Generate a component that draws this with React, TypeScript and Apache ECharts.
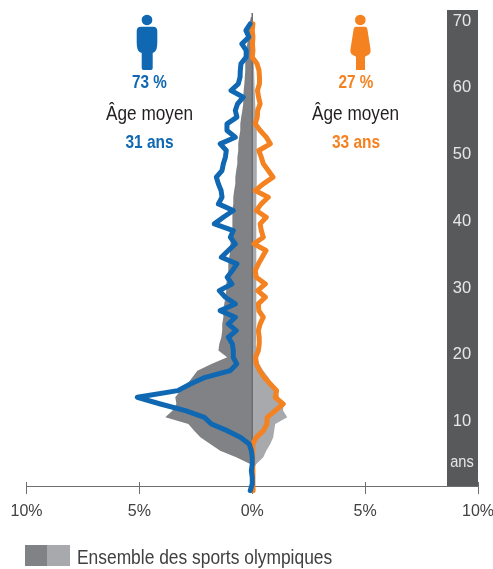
import React, { useEffect, useRef } from "react";
import * as echarts from "echarts";

const FONT = '"Liberation Sans", sans-serif';
const BLUE = "#1068b2";
const ORANGE = "#f58220";

const ages = Array.from({ length: 72 }, (_, i) => String(i));
const ageTicks = ["10", "20", "30", "40", "50", "60", "70"];
const xTicks = [-10, -5, 0, 5, 10];

// share per age (%), from age 0 upward
const menShare = [
  0.09, 0, 0, 0.04, 0, 0, 0.04, 0.13, 0.53, 1.11,
  1.81, 2.12, 2.96, 4.07, 5.09, 3.3, 2.74, 2.08, 0.97, 0.69,
  0.84, 0.84, 0.88, 1.06, 0.71, 1.06, 0.75, 1.42, 0.75, 1.19,
  1.46, 0.9, 1.11, 0.88, 0.68, 1.37, 1.06, 0.75, 0.97, 0.84,
  1.68, 1.28, 0.84, 1.5, 1.34, 1.38, 1.5, 1.59, 1.34, 1.28,
  1.19, 1.15, 1.42, 0.75, 1.12, 1.12, 0.68, 0.75, 0.65, 0.4,
  0.94, 0.62, 0.54, 0.53, 0.5, 0.27, 0.27, 0.46, 0.15, 0.28,
  0.09, null,
];
const womenShare = [
  0.04, 0.03, 0.03, 0.03, 0.02, 0.02, 0.02, 0.02, 0.18, 0.49,
  0.65, 0.66, 1.02, 1.37, 1.02, 1.08, 0.8, 0.53, 0.33, 0.18,
  0.15, 0.27, 0.31, 0.31, 0.27, 0.35, 0.49, 0.29, 0.27, 0.58,
  0.24, 0.58, 0.18, 0.13, 0.27, 0.44, 0.61, 0.07, 0.49, 0.4,
  0.35, 0.62, 0.18, 0.4, 0.71, 0.13, 0.49, 0.92, 0.71, 0.49,
  0.4, 0.29, 0.8, 0.62, 0.35, 0.13, 0.22, 0.24, 0.35, 0.28,
  0.23, 0.32, 0.32, 0.3, 0.21, 0, 0.03, 0.01, 0.03, 0,
  0.03, null,
];
const allMen = [
  0, 0, 0, 0, 0.09, 0.71, 1.42, 1.86, 2.3, 2.57,
  2.83, 3.85, 3.54, 3.36, 3.41, 3.19, 2.88, 2.65, 2.43, 1.81,
  1.11, 1.5, 1.46, 1.37, 1.33, 1.33, 1.28, 1.28, 1.24, 1.19,
  1.15, 1.15, 1.11, 1.06, 1.06, 1.02, 0.97, 0.97, 0.93, 0.88,
  0.88, 0.88, 0.88, 0.84, 0.84, 0.8, 0.75, 0.75, 0.71, 0.66,
  0.66, 0.62, 0.62, 0.58, 0.53, 0.53, 0.49, 0.44, 0.4, 0.4,
  0.38, 0.35, 0.33, 0.31, 0.31, 0.29, 0.27, 0.22, 0.18, 0.15,
  0.13, 0.06,
];
const allWomen = [
  0, 0, 0, 0.02, 0.18, 0.49, 0.62, 0.8, 0.93, 0.97,
  1.02, 1.55, 1.37, 1.37, 1.19, 1.11, 0.88, 0.71, 0.49, 0.31,
  0.22, 0.18, 0.16, 0.18, 0.18, 0.18, 0.18, 0.18, 0.18, 0.18,
  0.18, 0.18, 0.18, 0.18, 0.18, 0.18, 0.18, 0.18, 0.18, 0.18,
  0.18, 0.18, 0.18, 0.18, 0.18, 0.18, 0.2, 0.2, 0.2, 0.2,
  0.2, 0.2, 0.2, 0.2, 0.2, 0.2, 0.18, 0.15, 0.13, 0.12,
  0.11, 0.1, 0.09, 0.08, 0.07, 0.06, 0.05, 0.04, 0.03, 0.02,
  0.01, 0,
];

const manPath =
  "M141 26.7H153Q157.3 26.7 157.3 31V42Q157.3 50 154.5 52L152.7 53V68Q152.7 70 151 70H143.5Q141.7 70 141.7 68V53L139.5 52Q136.7 50 136.7 42V31Q136.7 26.7 141 26.7Z";
const womanPath =
  "M356 26.7H365Q367 26.7 367.5 30L370.5 49Q371 53 369 54.5L365 56.7V70H356V56.7L352 54.5Q350 53 350.5 49L353.5 30Q354 26.7 356 26.7Z";
echarts.graphic.registerShape("manBody", echarts.graphic.extendPath(manPath, {}) as any);
echarts.graphic.registerShape("womanBody", echarts.graphic.extendPath(womanPath, {}) as any);

const txt = (text: string, x: number, y: number, size: number, fill: string, scaleX: number, bold = false, align = "center") => ({
  type: "text",
  x,
  y,
  scaleX,
  z: 5,
  style: {
    text,
    fill,
    font: `${bold ? "bold " : ""}${size}px ${FONT}`,
    align,
    verticalAlign: "middle",
  },
});

export default function App() {
  const ref = useRef<HTMLDivElement>(null);
  useEffect(() => {
    const chart = echarts.init(ref.current!, null, { renderer: "svg" });
    const sideLine = (name: string, data: any[], color: string, z: number) => ({
      name,
      type: "line",
      data,
      z,
      showSymbol: false,
      symbol: "none",
      clip: false,
      silent: true,
      connectNulls: false,
      lineStyle: { color, width: 5, join: "round", cap: "round" },
    });
    const shape = (name: string, data: number[], color: string) => ({
      name,
      type: "line",
      data,
      z: 1,
      showSymbol: false,
      symbol: "none",
      clip: false,
      silent: true,
      lineStyle: { width: 0 },
      areaStyle: { color, opacity: 1 },
    });
    chart.setOption({
      animation: false,
      grid: { left: 26.5, right: 15, top: 17.1, bottom: 78.3, outerBoundsMode: "none" },
      xAxis: [
        {
          type: "value",
          min: -10,
          max: 10,
          interval: 5,
          offset: -4.2,
          splitLine: { show: false },
          axisLine: { show: true, onZero: false, lineStyle: { color: "#6d6e71", width: 1 } },
          axisTick: { show: true, length: 7.5, lineStyle: { color: "#6d6e71", width: 1 } },
          axisLabel: {
            color: "#414042",
            fontFamily: FONT,
            fontSize: 16,
            margin: 16,
            hideOverlap: false,
            showMinLabel: true,
            showMaxLabel: true,
            customValues: xTicks,
            formatter: (v: number) => `${Math.abs(v)}%`,
          },
        },
        {
          type: "value",
          position: "bottom",
          min: -10,
          max: 10,
          interval: 5,
          offset: -8.7,
          splitLine: { show: false },
          axisLine: { show: false, onZero: false },
          axisTick: { show: true, length: 5, lineStyle: { color: "#6d6e71", width: 1 } },
          axisLabel: { show: false },
        },
      ],
      yAxis: {
        type: "category",
        data: ages,
        boundaryGap: false,
        position: "right",
        axisLine: { show: false },
        axisTick: { show: false },
        splitLine: { show: false },
        axisLabel: {
          inside: true,
          margin: 16,
          align: "center",
          verticalAlign: "bottom",
          lineHeight: 8,
          color: "#e6e7e8",
          fontFamily: FONT,
          fontSize: 16.5,
          interval: (_: number, v: string) => ageTicks.includes(v),
        },
      },
      series: [
        shape("Ensemble hommes", allMen.map((v) => -v), "#808285"),
        shape("Ensemble femmes", allWomen, "#a7a9ac"),
        sideLine("Femmes", womenShare, ORANGE, 3),
        sideLine("Hommes", menShare.map((v) => (v === null ? null : -v)), BLUE, 4),
      ],
      graphic: {
        elements: [
          { type: "rect", z: -1, shape: { x: 447, y: 10, width: 31, height: 476.5 }, style: { fill: "#58595b" } },
          { type: "line", z: 2, shape: { x1: 252.25, y1: 13, x2: 252.25, y2: 486 }, style: { stroke: "#6d6e71", lineWidth: 1.5 } },
          txt("ans", 462, 461, 17, "#e6e7e8", 0.86),
          { type: "circle", shape: { cx: 147, cy: 20, r: 5.3 }, style: { fill: BLUE } },
          { type: "manBody", style: { fill: BLUE } },
          { type: "circle", shape: { cx: 360.3, cy: 20, r: 5.3 }, style: { fill: ORANGE } },
          { type: "womanBody", style: { fill: ORANGE } },
          txt("73 %", 149.5, 82, 18, BLUE, 0.85, true),
          txt("Âge moyen", 149.5, 113, 21, "#231f20", 0.82),
          txt("31 ans", 149.5, 142, 18, BLUE, 0.86, true),
          txt("27 %", 356, 82, 18, ORANGE, 0.85, true),
          txt("Âge moyen", 355.5, 113, 21, "#231f20", 0.82),
          txt("33 ans", 356, 142, 18, ORANGE, 0.86, true),
          { type: "rect", shape: { x: 25, y: 545, width: 22, height: 21 }, style: { fill: "#808285" } },
          { type: "rect", shape: { x: 47, y: 545, width: 23, height: 21 }, style: { fill: "#a7a9ac" } },
          txt("Ensemble des sports olympiques", 77, 557, 20, "#414042", 0.87, false, "left"),
        ],
      },
    });
    return () => chart.dispose();
  }, []);
  return <div ref={ref} style={{ position: "fixed", left: 0, top: 0, width: 493, height: 569 }} />;
}
